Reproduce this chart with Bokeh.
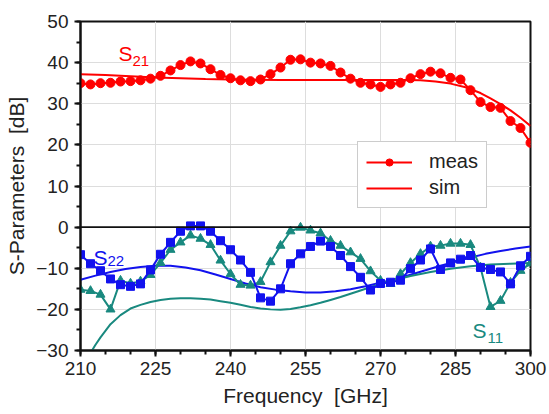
from bokeh.plotting import figure
from bokeh.models import (SingleIntervalTicker, Span, Label, Legend, LegendItem, Range1d)
from bokeh.embed import file_html
from bokeh.resources import INLINE

# ---------------- data ----------------
freq_meas = [210, 212, 214, 216, 218, 220, 222, 224, 226, 228,
             230, 232, 234, 236, 238, 240, 242, 244, 246, 248,
             250, 252, 254, 256, 258, 260, 262, 264, 266, 268,
             270, 272, 274, 276, 278, 280, 282, 284, 286, 288,
             290, 292, 294, 296, 298, 300]

s21_meas = [35.0, 34.7, 35.0, 35.1, 35.4, 35.5, 35.7, 36.1, 36.8, 38.1,
            39.4, 40.3, 39.8, 38.4, 37.0, 36.2, 35.7, 35.5, 35.9, 37.2,
            38.8, 40.7, 40.8, 40.0, 39.8, 39.2, 37.6, 36.1, 35.1, 34.7,
            34.1, 34.7, 35.1, 36.2, 37.2, 37.8, 37.4, 36.3, 35.9, 33.3,
            30.4, 29.2, 29.0, 25.8, 24.1, 20.5]

s22_meas = [-6.7, -8.9, -10.6, -12.6, -14.0, -14.4, -13.8, -10.4, -6.6, -3.7,
            -1.0, 0.3, 0.3, -1.0, -3.3, -5.5, -8.0, -11.0, -17.2, -18.0,
            -15.0, -8.9, -6.5, -4.7, -3.4, -4.7, -6.9, -9.6, -12.2, -15.3,
            -13.7, -13.4, -12.9, -10.1, -8.0, -5.3, -10.3, -8.7, -7.8, -6.9,
            -9.8, -10.3, -10.9, -13.8, -9.4, -7.1]

s11_meas = [-15.2, -15.5, -16.4, -20.0, -13.0, -13.7, -13.2, -11.6, -8.7, -5.5,
            -3.7, -2.0, -2.8, -4.3, -8.1, -11.4, -14.0, -14.2, -13.3, -8.5,
            -4.5, -1.0, -0.1, -0.8, -1.5, -3.3, -4.5, -6.1, -7.7, -10.7,
            -13.0, -13.8, -11.4, -8.7, -6.5, -4.7, -4.5, -4.0, -4.0, -4.3,
            -9.8, -19.4, -17.9, -13.5, -10.6, -8.8]

s21_sim_f = [210, 215, 220, 225, 230, 235, 240, 250, 260, 270, 275, 278,
             281, 284, 287, 290, 292, 294, 296, 298, 300]
s21_sim = [37.2, 37.0, 36.7, 36.4, 36.2, 36.0, 35.9, 35.8, 35.8, 35.8, 35.8, 35.7,
           35.4, 34.9, 34.0, 32.6, 31.3, 29.9, 28.4, 26.6, 24.6]

s22_sim_f = [210, 213, 216, 219, 222, 225, 228, 231, 234, 237, 240, 243, 246,
             249, 252, 255, 258, 261, 264, 267, 270, 273, 276, 279, 282, 285,
             288, 291, 294, 297, 300]
s22_sim = [-12.8, -11.8, -10.9, -10.2, -9.7, -9.4, -9.4, -9.8, -10.5, -11.5,
           -12.6, -13.7, -14.6, -15.2, -15.6, -15.9, -15.9, -15.6, -15.1, -14.4,
           -13.5, -12.6, -11.6, -10.5, -9.4, -8.4, -7.4, -6.5, -5.8, -5.2, -4.7]

s11_sim_f = [212.3, 213, 214, 216, 218, 220, 222, 224, 226, 228, 230, 232, 234,
             236, 238, 240, 242, 244, 246, 248, 250, 252, 254, 256, 258, 260,
             262, 264, 266, 268, 270, 273, 276, 280, 284, 288, 292, 296, 300]
s11_sim = [-30.0, -28.6, -26.8, -23.6, -21.4, -19.8, -18.9, -18.2, -17.7, -17.4,
           -17.3, -17.3, -17.4, -17.6, -18.0, -18.4, -18.9, -19.4, -19.8, -20.0,
           -20.1, -19.9, -19.5, -19.0, -18.4, -17.7, -17.0, -16.2, -15.4, -14.6,
           -13.8, -12.8, -11.9, -10.9, -10.1, -9.5, -9.1, -8.9, -8.7]

x_ticks_interval = 15
y_ticks_interval = 10

RED = "#FF0000"
BLUE = "#1212EE"
TEAL = "#19897F"
FONT = "Liberation Sans"

# ---------------- figure ----------------
p = figure(width=549, height=414, output_backend="svg", toolbar_location=None,
           x_range=Range1d(210, 300), y_range=Range1d(-30, 50),
           min_border_left=80, min_border_right=19, min_border_top=21,
           min_border_bottom=64)
p.background_fill_color = "white"
p.border_fill_color = "white"
p.outline_line_color = "#111111"
p.outline_line_width = 2

p.xaxis.ticker = SingleIntervalTicker(interval=x_ticks_interval, num_minor_ticks=3)
p.yaxis.ticker = SingleIntervalTicker(interval=y_ticks_interval, num_minor_ticks=2)

for ax in (p.xaxis[0], p.yaxis[0]):
    ax.axis_line_color = "#111111"
    ax.axis_line_width = 2
    ax.major_tick_line_color = "#111111"
    ax.major_tick_line_width = 2
    ax.minor_tick_line_color = "#111111"
    ax.minor_tick_line_width = 2
    ax.major_tick_out = 6
    ax.major_tick_in = 0
    ax.minor_tick_out = 4
    ax.minor_tick_in = 0
    ax.major_label_text_font = FONT
    ax.major_label_text_font_size = "19px"
    ax.major_label_text_color = "#222222"
    ax.axis_label_text_font = FONT
    ax.axis_label_text_font_size = "21px"
    ax.axis_label_text_font_style = "normal"
    ax.axis_label_text_color = "#222222"

p.xaxis.axis_label = "Frequency\u00a0\u00a0[GHz]"
p.yaxis.axis_label = "S-Parameters\u00a0\u00a0[dB]"
p.xaxis.major_label_standoff = 5
p.xaxis.axis_label_standoff = 6
p.yaxis.major_label_standoff = 6
p.yaxis.axis_label_standoff = 5

p.xgrid.grid_line_color = "#DDDDDD"
p.ygrid.grid_line_color = "#DDDDDD"
p.xgrid.grid_line_width = 1
p.ygrid.grid_line_width = 1

p.add_layout(Span(location=0, dimension="width", line_color="#111111", line_width=1.6))

# ---------------- series ----------------
r21s = p.line(s21_sim_f, s21_sim, line_color=RED, line_width=2)
r22s = p.line(s22_sim_f, s22_sim, line_color=BLUE, line_width=2)
r11s = p.line(s11_sim_f, s11_sim, line_color=TEAL, line_width=2)

r11m_l = p.line(freq_meas, s11_meas, line_color=TEAL, line_width=2)
r11m_p = p.scatter(freq_meas, s11_meas, marker="triangle", size=9,
                   fill_color=TEAL, line_color=TEAL)
r22m_l = p.line(freq_meas, s22_meas, line_color=BLUE, line_width=2)
r22m_p = p.scatter(freq_meas, s22_meas, marker="square", size=8,
                   fill_color=BLUE, line_color=BLUE)
r21m_l = p.line(freq_meas, s21_meas, line_color=RED, line_width=2)
r21m_p = p.scatter(freq_meas, s21_meas, marker="circle", size=9,
                   fill_color=RED, line_color=RED)

# ---------------- labels ----------------
def sub_label(x, y, main, sub, color, dx, dy):
    p.add_layout(Label(x=x, y=y, text=main, text_color=color, text_font=FONT,
                       text_font_size="21px", text_baseline="alphabetic"))
    p.add_layout(Label(x=x, y=y, x_offset=dx, y_offset=dy, text=sub,
                       text_color=color, text_font=FONT, text_font_size="15px",
                       text_baseline="alphabetic"))

sub_label(217.6, 42.2, "S", "21", RED, 14, -7)
sub_label(212.6, -7.3, "S", "22", BLUE, 14, -4)
sub_label(288.4, -25.1, "S", "11", TEAL, 15, -8)

# ---------------- legend ----------------
legend = Legend(items=[LegendItem(label="meas", renderers=[r21m_l, r21m_p]),
                       LegendItem(label="sim", renderers=[r21s])],
                location=(277, 142))
legend.label_text_font = FONT
legend.label_text_font_size = "20px"
legend.label_text_color = "#222222"
legend.glyph_width = 46
legend.glyph_height = 18
legend.label_standoff = 17
legend.spacing = 3
legend.padding = 8
legend.margin = 0
legend.border_line_color = "#999999"
legend.border_line_width = 1.5
legend.background_fill_color = "white"
legend.background_fill_alpha = 1.0
p.add_layout(legend)

open("out.html", "w").write(file_html(p, INLINE))
